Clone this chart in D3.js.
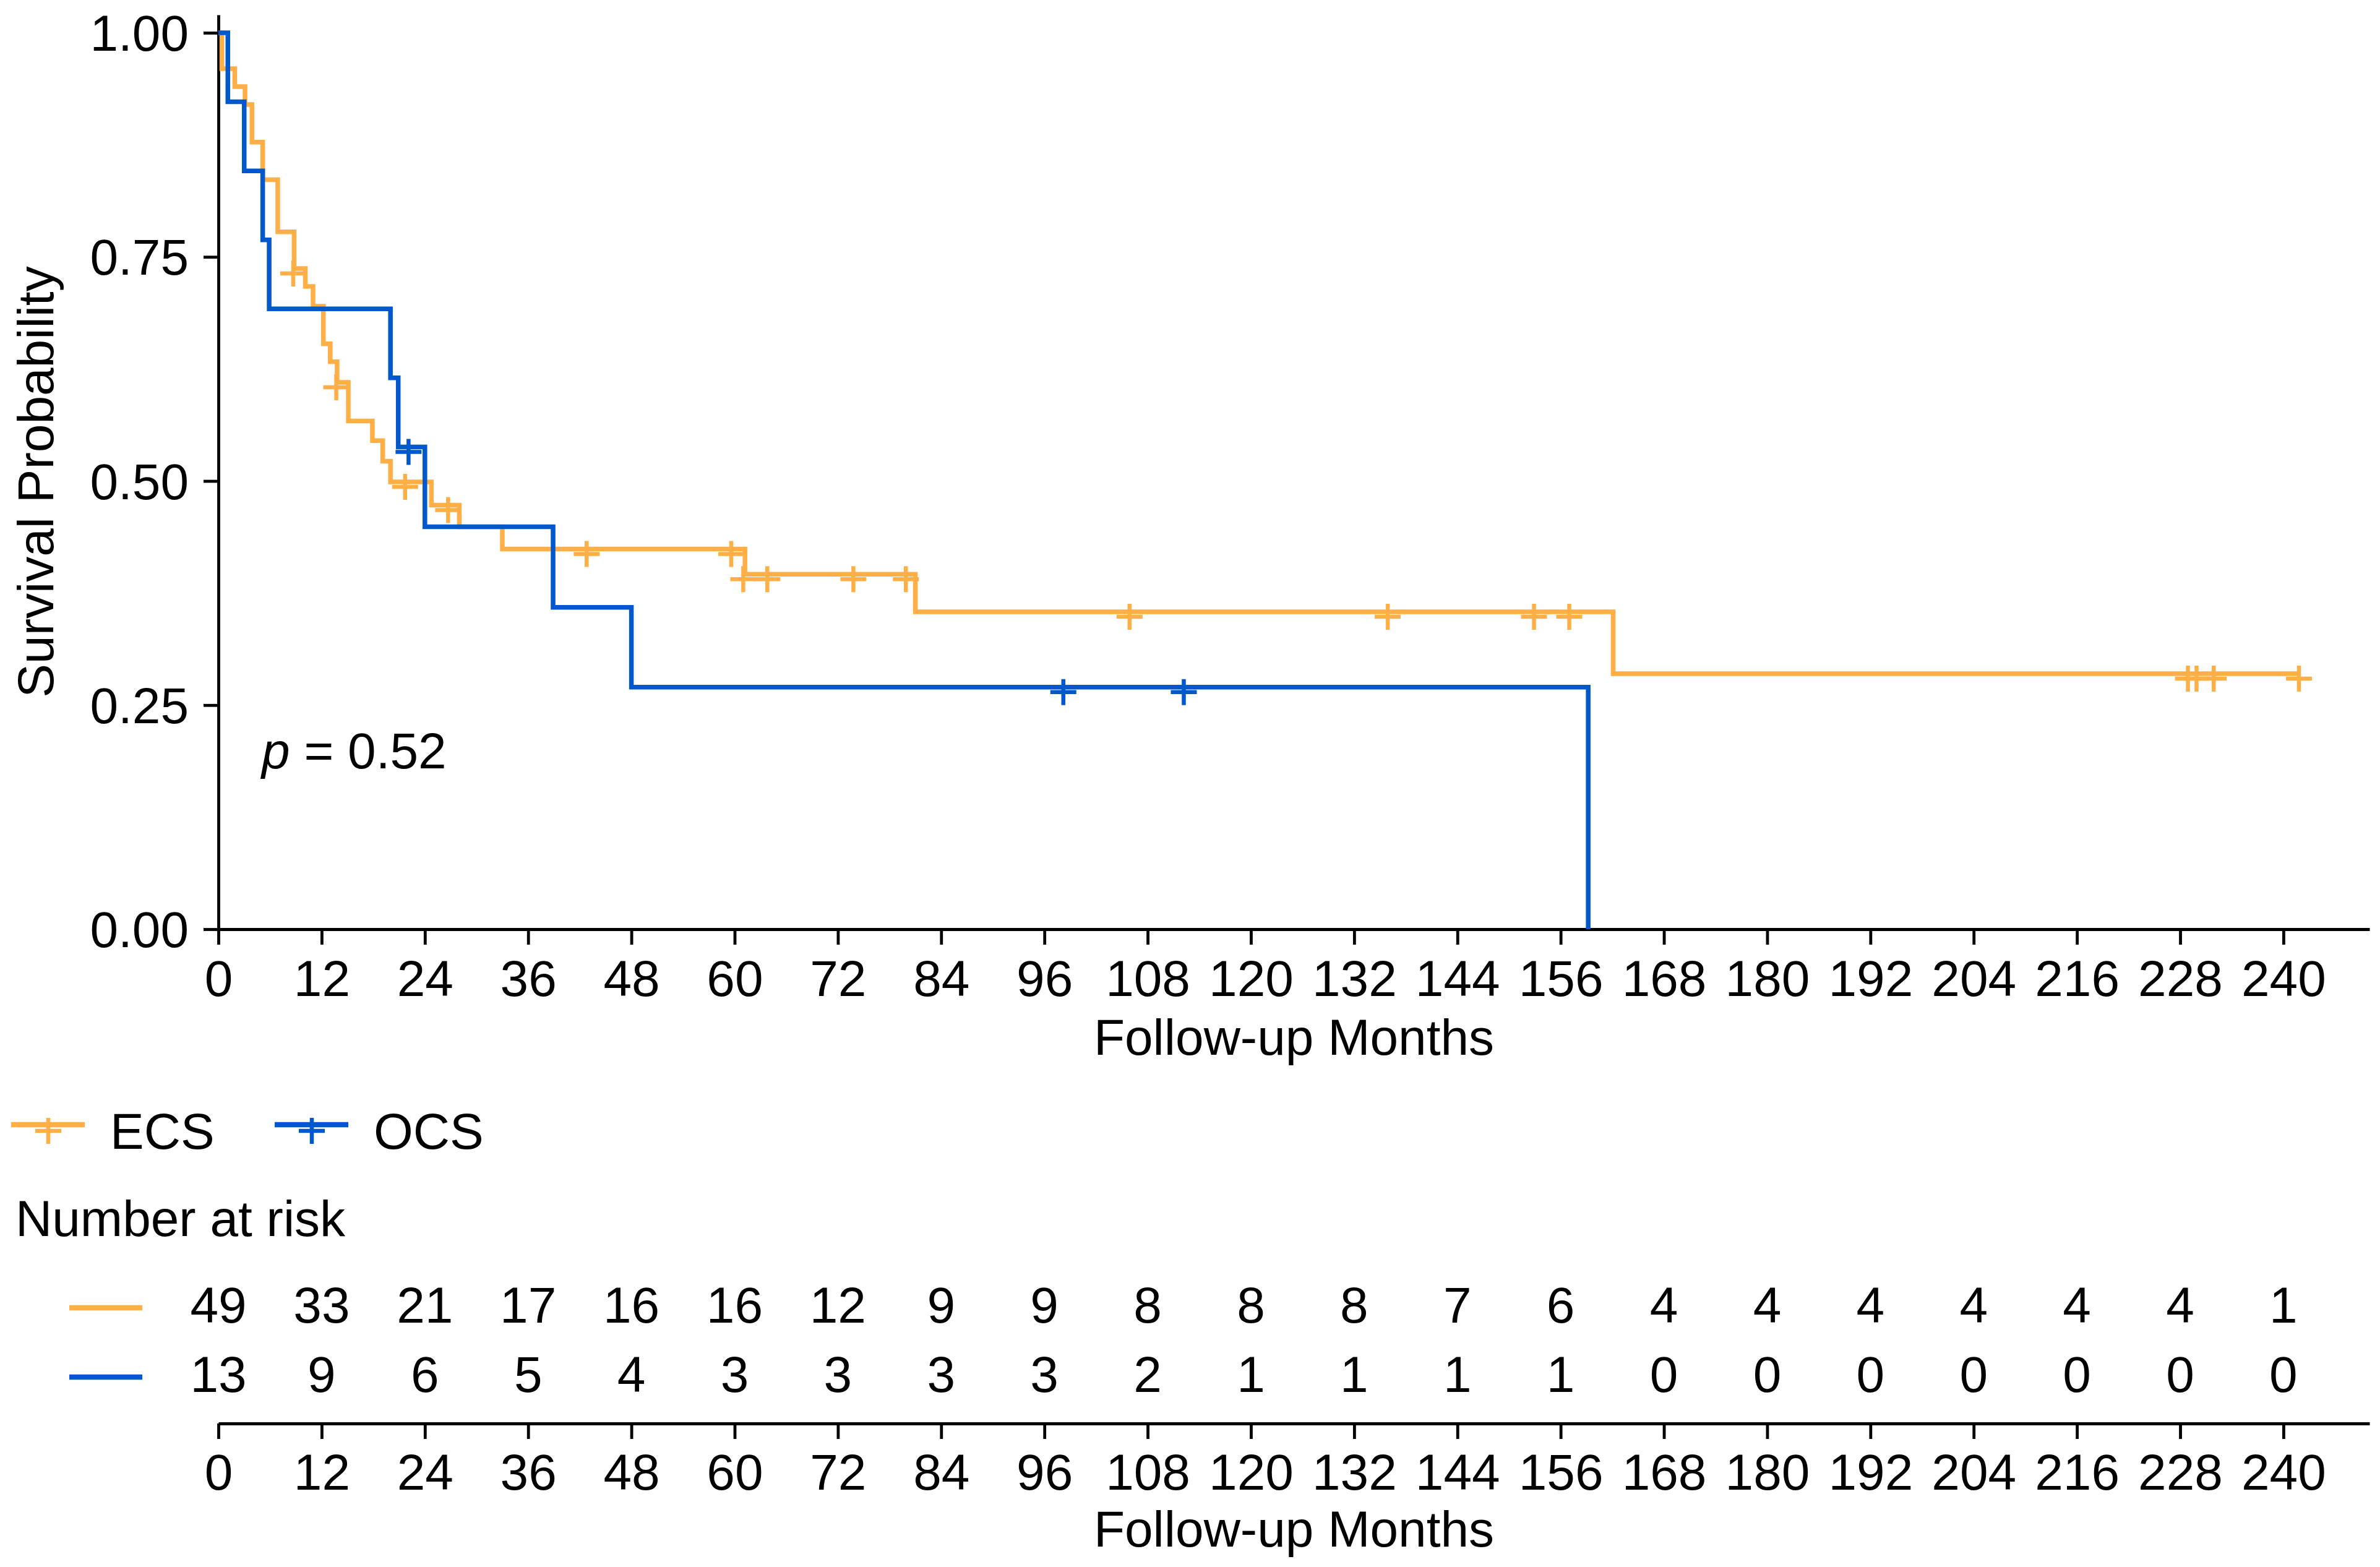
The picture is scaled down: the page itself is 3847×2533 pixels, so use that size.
<!DOCTYPE html>
<html>
<head>
<meta charset="utf-8">
<script src="https://cdn.jsdelivr.net/npm/d3@7"></script>
<style>
  body { margin: 0; background: #fff; }
  text { font-family: "Liberation Sans", Arial, sans-serif; fill: #000; }
</style>
</head>
<body>
<svg id="chart"></svg>
<script>
// Kaplan-Meier steps
const ecsTime = [0, 0.4, 1.9, 3.1, 3.9, 5.15, 6.9, 8.8, 10.1, 11.0, 12.2, 13.0, 13.8, 15.1, 17.9, 19.1, 20.0, 24.75, 28.0, 33.0, 61.2, 81.0, 162.1, 241.8];
const ecsSurv = [1, 0.960, 0.940, 0.920, 0.878, 0.836, 0.778, 0.737, 0.717, 0.695, 0.653, 0.633, 0.610, 0.567, 0.545, 0.522, 0.499, 0.473, 0.449, 0.424, 0.396, 0.354, 0.285, 0.285];
const ecsCensorTime = [8.7, 13.7, 21.7, 26.7, 42.8, 59.6, 61.0, 63.8, 73.8, 79.9, 105.9, 135.9, 152.9, 157.0, 228.9, 229.9, 231.9, 241.8];
const ecsCensorSurv = [0.737, 0.610, 0.499, 0.473, 0.424, 0.424, 0.396, 0.396, 0.396, 0.396, 0.354, 0.354, 0.354, 0.354, 0.285, 0.285, 0.285, 0.285];

const ocsTime = [0, 1.1, 3.0, 5.15, 5.9, 20.0, 20.9, 24.0, 38.9, 48.0, 159.2];
const ocsSurv = [1, 0.923, 0.846, 0.769, 0.692, 0.615, 0.538, 0.449, 0.359, 0.270, 0];
const ocsCensorTime = [22.1, 98.2, 112.2];
const ocsCensorSurv = [0.538, 0.270, 0.270];

const groups = ["ECS", "OCS"];
const groupColors = ["#FFAF45", "#0058CC"];

const xTicks = d3.range(0, 241, 12);
const yTicks = [0, 0.25, 0.5, 0.75, 1.0];
const riskTimes = d3.range(0, 241, 12);
const ecsRisk = [49, 33, 21, 17, 16, 16, 12, 9, 9, 8, 8, 8, 7, 6, 4, 4, 4, 4, 4, 4, 1];
const ocsRisk = [13, 9, 6, 5, 4, 3, 3, 3, 3, 2, 1, 1, 1, 1, 0, 0, 0, 0, 0, 0, 0];
const pText = "0.52";

const W = 3847, H = 2533;
const fontSize = 82;
const lineW = 7.5, axisW = 4.8, crossSize = 42, crossOffset = 8;

const svg = d3.select("#chart").attr("width", W).attr("height", H);

const x = d3.scaleLinear().domain([0, 250]).range([353, 3830]);
const y = d3.scaleLinear().domain([0, 1.02]).range([1502, 24]);

// main plot axes
const xAxisG = svg.append("g")
  .attr("transform", `translate(0,${y(0)})`)
  .call(d3.axisBottom(x).tickValues(xTicks).tickSize(25).tickSizeOuter(0));
const yAxisG = svg.append("g")
  .attr("transform", `translate(${x(0)},0)`)
  .call(d3.axisLeft(y).tickValues(yTicks).tickSize(24).tickSizeOuter(0).tickFormat(d3.format(".2f")));

function styleAxis(g) {
  g.select(".domain").attr("stroke", "#000").attr("stroke-width", axisW);
  g.selectAll(".tick line").attr("stroke", "#000").attr("stroke-width", axisW);
  g.selectAll(".tick text").attr("font-size", fontSize).attr("fill", "#000");
}
styleAxis(xAxisG);
styleAxis(yAxisG);
xAxisG.selectAll(".tick text").attr("y", 108).attr("dy", 0);
yAxisG.selectAll(".tick text").attr("x", -48).attr("dy", "0.35em");

// axis titles
svg.append("text")
  .attr("x", (x(0) + x(250)) / 2).attr("y", 1705)
  .attr("text-anchor", "middle").attr("font-size", fontSize)
  .text("Follow-up Months");
svg.append("text")
  .attr("transform", `translate(86,${(y(0) + y(1.02)) / 2 + 16}) rotate(-90)`)
  .attr("text-anchor", "middle").attr("font-size", fontSize)
  .text("Survival Probability");

// curves
const step = d3.line().x(d => x(d[0])).y(d => y(d[1])).curve(d3.curveStepAfter);
const curves = [
  { pts: d3.zip(ecsTime, ecsSurv), cens: d3.zip(ecsCensorTime, ecsCensorSurv), color: groupColors[0] },
  { pts: d3.zip(ocsTime, ocsSurv), cens: d3.zip(ocsCensorTime, ocsCensorSurv), color: groupColors[1] }
];

function cross(g, cx, cy, color) {
  const h = crossSize / 2;
  g.append("path")
    .attr("d", `M${cx - h},${cy}H${cx + h}M${cx},${cy - h}V${cy + h}`)
    .attr("stroke", color).attr("stroke-width", 6.5).attr("fill", "none");
}

curves.forEach(c => {
  const g = svg.append("g");
  g.append("path")
    .attr("d", step(c.pts))
    .attr("fill", "none").attr("stroke", c.color)
    .attr("stroke-width", lineW).attr("stroke-linejoin", "miter");
  c.cens.forEach(d => cross(g, x(d[0]), y(d[1]) + crossOffset, c.color));
});

// p-value
const pt = svg.append("text").attr("x", 423).attr("y", 1242).attr("font-size", fontSize);
pt.append("tspan").attr("font-style", "italic").text("p");
pt.append("tspan").text(" = " + pText);

// legend
const legendX = [18, 444];
groups.forEach((name, i) => {
  const lg = svg.append("g");
  lg.append("line")
    .attr("x1", legendX[i]).attr("x2", legendX[i] + 119)
    .attr("y1", 1818).attr("y2", 1818)
    .attr("stroke", groupColors[i]).attr("stroke-width", lineW + 1);
  cross(lg, legendX[i] + 60, 1828, groupColors[i]);
  lg.append("text")
    .attr("x", legendX[i] + 160).attr("y", 1857)
    .attr("font-size", fontSize).text(name);
});

// risk table
svg.append("text").attr("x", 25).attr("y", 1998).attr("font-size", fontSize).text("Number at risk");

const riskRows = [ecsRisk, ocsRisk];
const rowBase = [2138, 2250];
riskRows.forEach((row, i) => {
  svg.append("line")
    .attr("x1", 112).attr("x2", 230)
    .attr("y1", rowBase[i] - 24).attr("y2", rowBase[i] - 24)
    .attr("stroke", groupColors[i]).attr("stroke-width", lineW + 1);
  svg.append("g").selectAll("text")
    .data(row).enter().append("text")
    .attr("x", (d, j) => x(riskTimes[j]))
    .attr("y", rowBase[i])
    .attr("text-anchor", "middle").attr("font-size", fontSize)
    .text(d => d);
});

const tAxisG = svg.append("g")
  .attr("transform", "translate(0,2301)")
  .call(d3.axisBottom(x).tickValues(xTicks).tickSize(25).tickSizeOuter(0));
styleAxis(tAxisG);
tAxisG.selectAll(".tick text").attr("y", 107).attr("dy", 0);

svg.append("text")
  .attr("x", (x(0) + x(250)) / 2).attr("y", 2500)
  .attr("text-anchor", "middle").attr("font-size", fontSize)
  .text("Follow-up Months");
</script>
</body>
</html>
